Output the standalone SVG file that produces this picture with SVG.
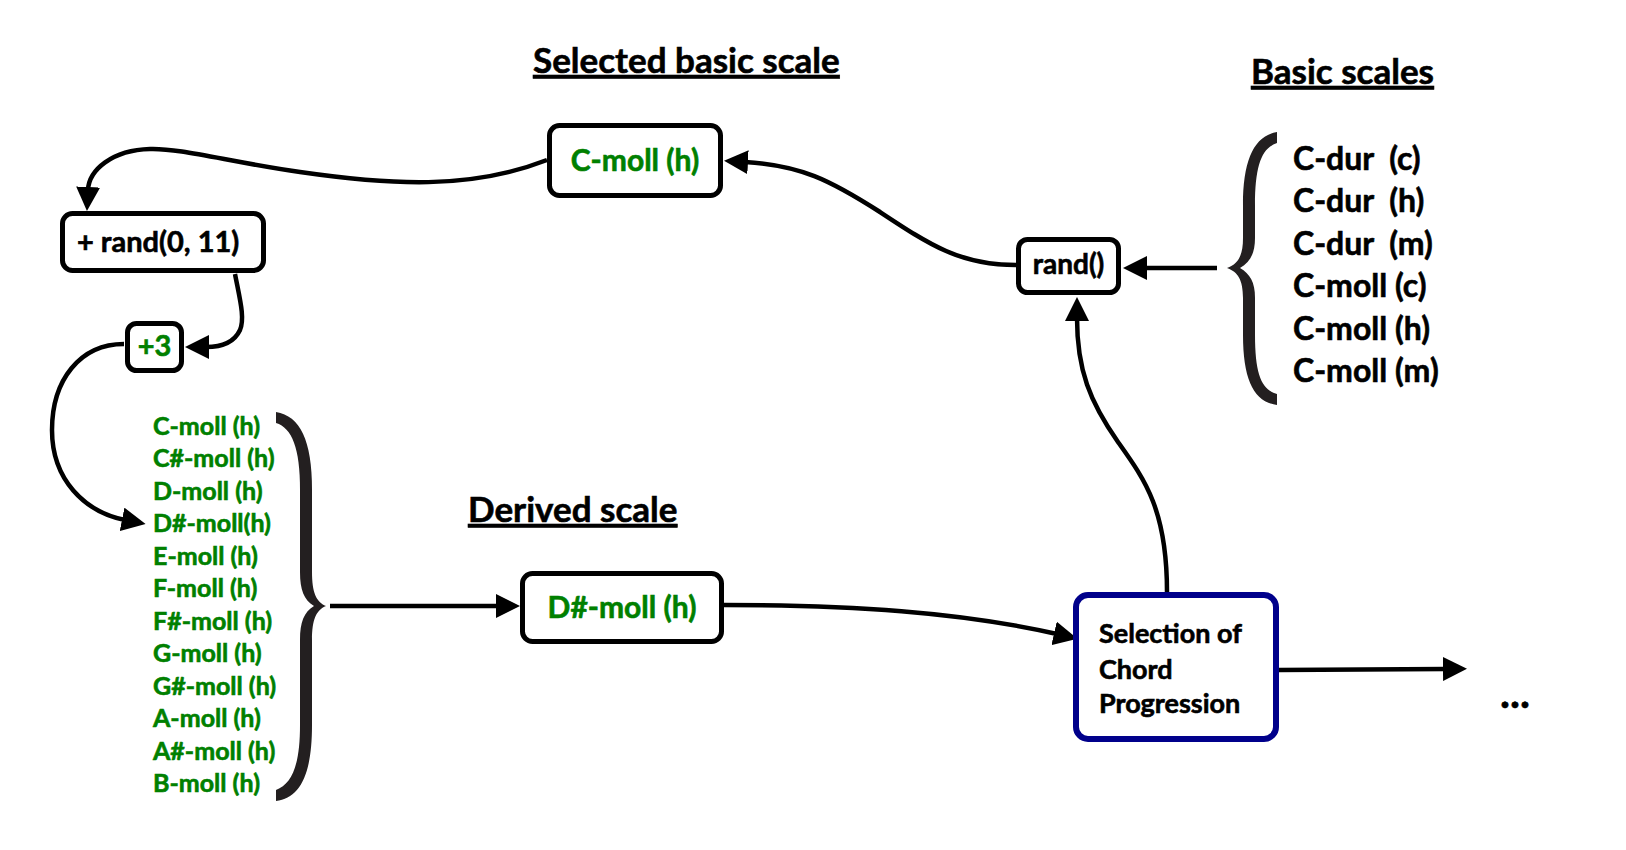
<svg xmlns="http://www.w3.org/2000/svg" width="1626" height="850" viewBox="0 0 1626 850">
<style>
  text { font-family: Lato, "Liberation Sans", sans-serif; font-weight: bold; fill: #000; stroke: #000; stroke-width: 0.6; }
  .green { fill: #008000; stroke: #008000; }
  .head { font-size: 35px; text-decoration: underline; }
  .box { fill: #fff; stroke: #000; stroke-width: 5; }
  .sel { fill: #fff; stroke: #00008b; stroke-width: 6; }
  .conn { fill: none; stroke: #000; stroke-width: 4.5; }
  .brace { fill: #231f20; }
  .basic { font-size: 32px; }
  .glist { font-size: 25px; }
</style>
<defs>
  <marker id="arr" markerUnits="userSpaceOnUse" markerWidth="24" markerHeight="24" refX="3" refY="12" orient="auto" viewBox="0 0 24 24">
    <path d="M0,0 L24,12 L0,24 z" fill="#000"/>
  </marker>
</defs>
<rect width="1626" height="850" fill="#fff"/>

<g id="title-selected">
  <text class="head" x="533" y="73">Selected basic scale</text>
</g>
<g id="title-basic">
  <text class="head" x="1251" y="84" font-size="34.5">Basic scales</text>
</g>
<g id="title-derived">
  <text class="head" x="468" y="522">Derived scale</text>
</g>

<g id="connectors">
  <path class="conn" d="M547,160 C470,190 390,185 300,172 C230,162 180,148 150,149 C112,150 89,170 88,190" marker-end="url(#arr)"/>
  <path class="conn" d="M235,274 C240,300 245,318 240,330 C234,343 220,347 206,347" marker-end="url(#arr)"/>
  <path class="conn" d="M124,344 C80,344 52,380 52,430 C52,480 85,512 125,520" marker-end="url(#arr)"/>
  <path class="conn" d="M330,606 L499,606" marker-end="url(#arr)"/>
  <path class="conn" d="M724,605 C850,605 960,612 1057,634" marker-end="url(#arr)"/>
  <path class="conn" d="M1167,592 C1167,510 1145,480 1118,442 C1090,402 1077,370 1077,318" marker-end="url(#arr)"/>
  <path class="conn" d="M1217,268 L1144,268" marker-end="url(#arr)"/>
  <path class="conn" d="M1016,265 C960,265 930,245 880,212 C830,180 800,165 745,162" marker-end="url(#arr)"/>
  <path class="conn" d="M1279,670 L1446,669" marker-end="url(#arr)"/>
</g>

<g id="node-cmoll">
  <rect class="box" x="549.5" y="125.5" width="171" height="70" rx="10"/>
  <text class="green" x="635" y="171" font-size="30" text-anchor="middle">C-moll (h)</text>
</g>

<g id="node-randrange">
  <rect class="box" x="62.5" y="213.5" width="201" height="57" rx="10"/>
  <text x="77" y="252" font-size="29">+ rand(0, 11)</text>
</g>

<g id="node-plus3">
  <rect class="box" x="127.5" y="323.5" width="54" height="47" rx="9"/>
  <text class="green" x="154.5" y="356" font-size="29" text-anchor="middle">+3</text>
</g>

<g id="node-rand">
  <rect class="box" x="1018.5" y="239.5" width="100" height="53" rx="9"/>
  <text x="1068.5" y="274" font-size="28" text-anchor="middle">rand()</text>
</g>

<g id="node-derived">
  <rect class="box" x="522.5" y="573.5" width="199" height="68" rx="10"/>
  <text class="green" x="622" y="618" font-size="30" text-anchor="middle">D#-moll (h)</text>
</g>

<g id="node-selection">
  <rect class="sel" x="1076" y="595" width="200" height="144" rx="12"/>
  <text x="1099" y="643" font-size="27">Selection of</text>
  <text x="1099" y="679" font-size="27">Chord</text>
  <text x="1099" y="713" font-size="27">Progression</text>
</g>

<g id="node-ellipsis">
  <text x="1500" y="708" font-size="42">...</text>
</g>

<g id="basic-scales">
  <path class="brace" d="M1277,132 C1254,136 1243,160 1243,205 L1243,238 C1243,256 1238,264 1227,268 C1238,272 1243,280 1243,298 L1243,335 C1243,380 1254,402 1277,405 L1277,394 C1262,390 1255,375 1255,335 L1255,298 C1255,282 1250,274 1240,268 C1250,262 1255,254 1255,238 L1255,205 C1255,165 1262,148 1277,143 Z"/>
  <text class="basic" x="1293" y="170" xml:space="preserve">C-dur  (c)</text>
  <text class="basic" x="1293" y="212" xml:space="preserve">C-dur  (h)</text>
  <text class="basic" x="1293" y="255" xml:space="preserve">C-dur  (m)</text>
  <text class="basic" x="1293" y="297">C-moll (c)</text>
  <text class="basic" x="1293" y="340">C-moll (h)</text>
  <text class="basic" x="1293" y="382">C-moll (m)</text>
</g>

<g id="derived-list">
  <path class="brace" d="M276,412 C300,416 312,440 312,490 L312,572 C312,592 316,602 326,606 C316,610 312,620 312,640 L312,725 C312,775 300,798 276,801 L276,790 C292,784 300,765 300,725 L300,640 C300,622 304,612 314,606 C304,600 300,590 300,572 L300,490 C300,448 292,428 276,423 Z"/>
  <text class="green glist" x="153" y="435">C-moll (h)</text>
  <text class="green glist" x="153" y="467">C#-moll (h)</text>
  <text class="green glist" x="153" y="500">D-moll (h)</text>
  <text class="green glist" x="153" y="532">D#-moll(h)</text>
  <text class="green glist" x="153" y="565">E-moll (h)</text>
  <text class="green glist" x="153" y="597">F-moll (h)</text>
  <text class="green glist" x="153" y="630">F#-moll (h)</text>
  <text class="green glist" x="153" y="662">G-moll (h)</text>
  <text class="green glist" x="153" y="695">G#-moll (h)</text>
  <text class="green glist" x="153" y="727">A-moll (h)</text>
  <text class="green glist" x="153" y="760">A#-moll (h)</text>
  <text class="green glist" x="153" y="792">B-moll (h)</text>
</g>
</svg>
